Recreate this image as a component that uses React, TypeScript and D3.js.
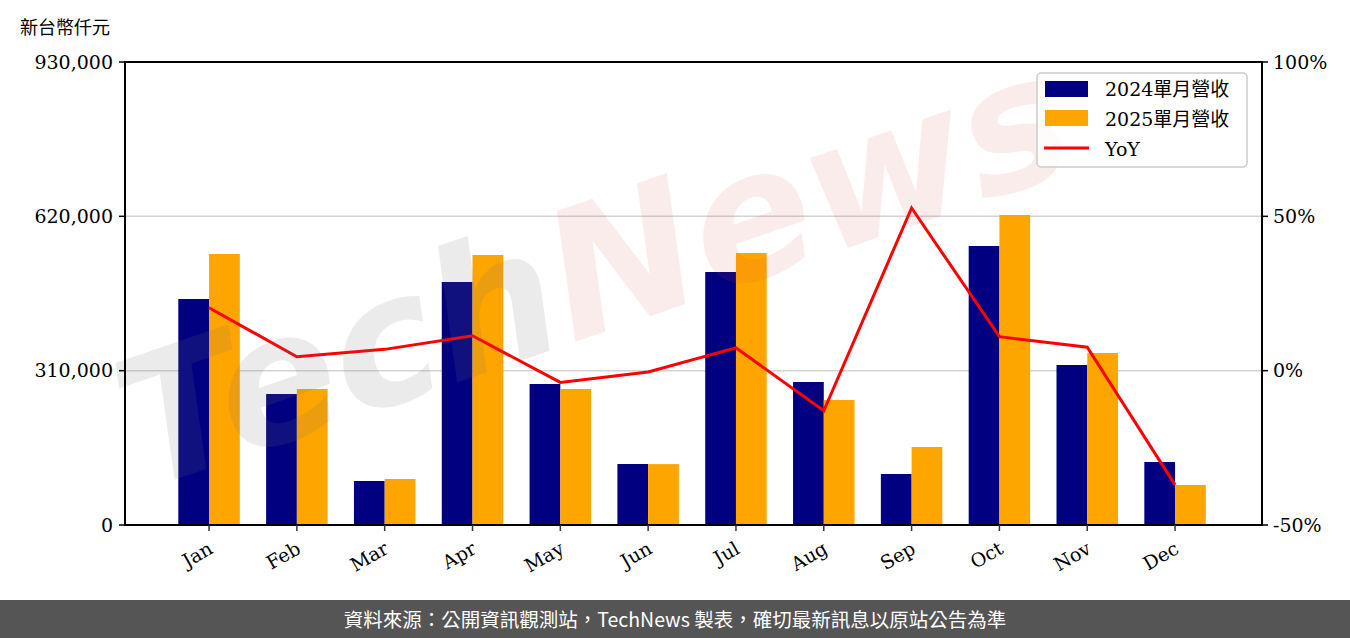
import React from "react";
import * as d3 from "d3";

const months = ["Jan","Feb","Mar","Apr","May","Jun","Jul","Aug","Sep","Oct","Nov","Dec"];
const rev2024 = [453950, 263130, 88380, 488090, 283210, 122520, 508180, 287230, 102440, 560400, 321380, 126540];
const rev2025 = [544330, 273170, 92400, 542320, 273170, 122300, 546340, 251080, 156670, 622670, 345480, 80340];
const yoy = [20.4, 4.5, 6.9, 11.3, -3.8, -0.4, 7.4, -13.0, 52.7, 11.0, 7.6, -37.0];
const leftTicks = [0, 310000, 620000, 930000];
const rightTicks = [-50, 0, 50, 100];
const legendLabels = ["2024單月營收", "2025單月營收", "YoY"];
const unitLabel = "新台幣仟元";
const footerText = "資料來源：公開資訊觀測站，TechNews 製表，確切最新訊息以原站公告為準";

const W = 1350, H = 638;
const L = 125, R = 1262, T = 62, B = 525;
const serif = "'DejaVu Serif', 'Noto Sans CJK TC', serif";
const C24 = "#000080", C25 = "#FFA500";

export default function App() {
  const x = d3.scaleLinear().domain([-0.957, 11.99]).range([L, R]);
  const y = d3.scaleLinear().domain([0, 930000]).range([B, T]);
  const y2 = d3.scaleLinear().domain([-50, 100]).range([B, T]);
  const bw = 0.35;
  const line = d3.line<number>().x((_, i) => x(i)).y(d => y2(d));
  const fmt = d3.format(",");

  return (
    <svg width={W} height={H} style={{ display: "block", position: "absolute", left: 0, top: 0 }}>
      <rect width={W} height={H} fill="#fff" />
      {/* gridlines */}
      {leftTicks.slice(1, 3).map(t => (
        <line key={t} x1={L} x2={R} y1={y(t)} y2={y(t)} stroke="#d3d3d3" strokeWidth={1.5} />
      ))}
      {/* bars */}
      {months.map((m, i) => (
        <g key={m}>
          <rect x={x(i - bw)} y={y(rev2024[i])} width={x(bw) - x(0)} height={B - y(rev2024[i])} fill={C24} />
          <rect x={x(i)} y={y(rev2025[i])} width={x(bw) - x(0)} height={B - y(rev2025[i])} fill={C25} />
        </g>
      ))}
      {/* YoY line */}
      <path d={line(yoy) || ""} fill="none" stroke="#FF0000" strokeWidth={3} strokeLinejoin="miter" />
      {/* watermark */}
      <g transform="translate(145,490) rotate(-19)" style={{ pointerEvents: "none" }}>
        <text fontFamily="'DejaVu Sans', sans-serif" fontStyle="italic" fontWeight="bold" fontSize={178} x={0} y={0}>
          <tspan fill="rgba(110,110,110,0.14)">Tech</tspan>
          <tspan fill="rgba(220,70,70,0.1)">News</tspan>
        </text>
      </g>
      {/* spines */}
      <rect x={L} y={T} width={R - L} height={B - T} fill="none" stroke="#000" strokeWidth={2} />
      {/* left axis */}
      {leftTicks.map(t => (
        <g key={t}>
          <line x1={L - 6} x2={L} y1={y(t)} y2={y(t)} stroke="#000" strokeWidth={1.5} />
          <text x={L - 12} y={y(t)} dy="0.35em" textAnchor="end" fontFamily={serif} fontSize={19} fill="#000">{fmt(t)}</text>
        </g>
      ))}
      {/* right axis */}
      {rightTicks.map(t => (
        <g key={t}>
          <line x1={R} x2={R + 6} y1={y2(t)} y2={y2(t)} stroke="#000" strokeWidth={1.5} />
          <text x={R + 11} y={y2(t)} dy="0.35em" textAnchor="start" fontFamily={serif} fontSize={19} fill="#000">{t}%</text>
        </g>
      ))}
      {/* x axis */}
      {months.map((m, i) => (
        <g key={m}>
          <line x1={x(i)} x2={x(i)} y1={B} y2={B + 6} stroke="#333" strokeWidth={1.5} />
          <text transform={`translate(${x(i) - 2},${B + 15}) rotate(-30)`} textAnchor="end" dy="0.75em" fontFamily={serif} fontSize={19} fill="#000">{m}</text>
        </g>
      ))}
      {/* unit label */}
      <text x={20} y={34} fontFamily="'Noto Sans CJK TC', sans-serif" fontSize={18} fill="#000">{unitLabel}</text>
      {/* legend */}
      <g>
        <rect x={1037} y={73} width={210} height={94} rx={4} fill="rgba(255,255,255,0.8)" stroke="#cccccc" strokeWidth={1.5} />
        <rect x={1045} y={81} width={43} height={16} fill={C24} />
        <rect x={1045} y={110} width={43} height={16} fill={C25} />
        <line x1={1044} x2={1089} y1={148} y2={148} stroke="#FF0000" strokeWidth={3} />
        {legendLabels.map((l, i) => (
          <text key={l} x={1105} y={89 + i * 30} dy="0.35em" fontFamily={serif} fontSize={19} fill="#000">{l}</text>
        ))}
      </g>
      {/* footer */}
      <rect x={0} y={600} width={W} height={38} fill="#555555" />
      <text x={W / 2} y={620} dy="0.35em" textAnchor="middle" fontFamily="'Noto Sans CJK TC', sans-serif" fontSize={19.5} fill="#fff">{footerText}</text>
    </svg>
  );
}
